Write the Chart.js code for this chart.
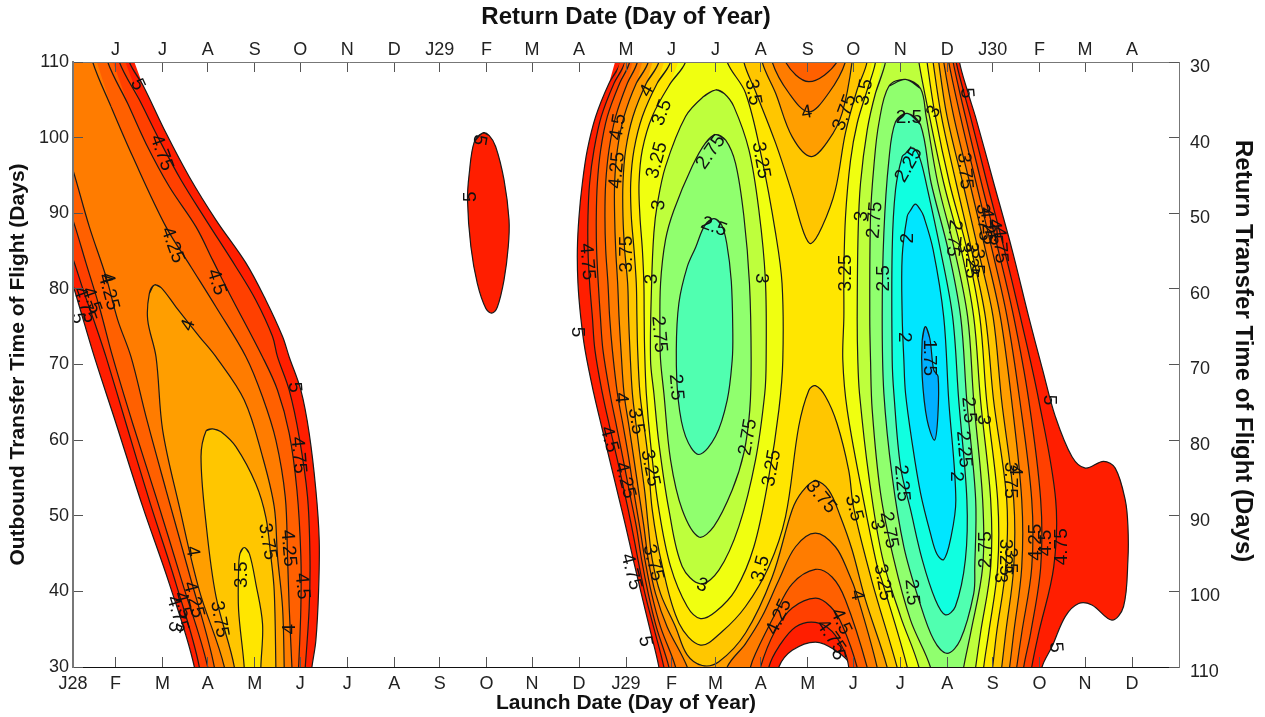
<!DOCTYPE html>
<html lang="en">
<head>
  <meta charset="UTF-8">
  <title>Launch and Return Date Contours</title>
  <script src="https://cdn.jsdelivr.net/npm/chart.js"></script>
  <style>
    body { margin: 0; background: #fff; }
    canvas { display: block; }
  </style>
</head>
<body>
<canvas id="contourChart" width="1265" height="717"></canvas>

<script>
  // axis ticks (days since start of launch window)
  const monthTicks = [0,28,59,89,120,150,181,212,242,273,303,334,365,395,424,454,485,515,546,577,607,638,668,699];
  const returnTicks = monthTicks.slice(1);
  const launchMonths = ["J28","F","M","A","M","J","J","A","S","O","N","D","J29","F","M","A","M","J","J","A","S","O","N","D"];
  const returnMonths = ["J","J","A","S","O","N","D","J29","F","M","A","M","J","J","A","S","O","N","D","J30","F","M","A"];
  const tofTicks = [30,40,50,60,70,80,90,100,110];

  // contour level -> fill colour for "value below level"
  const colors = {
    "5": "#ff1e00", "4.75": "#ff4000", "4.5": "#ff6000", "4.25": "#ff7c00", "4": "#ff9e00",
    "3.75": "#ffc600", "3.5": "#ffe600", "3.25": "#f0ff10", "3": "#beff3c", "2.75": "#90ff6e",
    "2.5": "#50ffb0", "2.25": "#10ffe0", "2": "#00e6ff", "1.75": "#00b0ff"
  };

  // left lobe, [launch day, outbound time of flight]
  const lobe5 = [[37.2,110],[46,107],[61.4,100.6],[76.8,94.8],[94.4,89.1],[114.2,83.4],[127.3,78.5],[138.3,73.7],[142.7,71],[150.4,66.6],[155.9,60.9],[160.3,53.4],[162.5,46.8],[162.1,40.1],[160.3,33.5],[157.7,30],[156,27],[79,27],[80.1,30],[63.6,41],[46,51.2],[28.4,62.2],[14.1,71],[4.3,77.6],[0.3,80.3],[-4,83],[-4,113],[35,113]];
  const lobe475 = [[30.6,110],[43.8,105],[57,99.7],[71.3,94.4],[87.8,89.1],[107.6,82.9],[120.7,78.5],[131.7,73.7],[135,71],[142.7,66.6],[149.3,60.4],[154.8,52.5],[156.4,44.6],[155.9,37.9],[153.3,30],[152,27],[82,27],[83.4,30],[68,41],[50.4,52],[35,62.2],[21.8,71],[15.2,75],[7.5,79.4],[0.3,83.8],[-4,86],[-4,113],[29,113]];
  const lobe45 = [[22.9,110],[36.1,104.5],[48.2,99.2],[63.6,93.5],[81.2,88.2],[92.2,83.8],[103.2,79.4],[125.1,71],[135,66.6],[142.7,60.9],[147.8,53.4],[150.4,44.6],[150.4,37.9],[148.9,30],[148,27],[88,27],[88.9,30],[72.4,41],[54.8,52.5],[39.4,62.2],[26.2,71],[17.4,77.6],[8.6,83.4],[0.3,88.9],[-4,91],[-4,113],[21,113]];
  const lobe425 = [[13,110],[25.1,104.1],[39.4,97.5],[61.4,88.2],[77.9,82.9],[94.4,77.6],[114.2,71],[125.1,65.7],[133.9,60],[140.1,52.5],[141.6,44.6],[142.7,37.9],[144.5,30],[145,27],[92,27],[93.3,30],[76.8,42.3],[61.4,53.4],[48.2,63.1],[38.3,71],[29.5,75.9],[21.8,81.6],[10.8,88.2],[0.3,95.5],[-4,98],[-4,113],[11,113]];
  const lobe4 = [[53.7,80.5],[58,80.2],[68,77.6],[83.4,73.7],[94.4,71],[113,65.3],[125.1,57.8],[132.8,51.2],[135,44.6],[138.3,37.9],[139.4,30],[139.5,27],[99,27],[99.9,30],[83.4,40.1],[70.2,51.2],[59.2,61.3],[54.8,71],[49.3,75.9],[50.4,79.4]];
  const lobe375 = [[92.2,61.5],[97.7,61.1],[107.6,59.1],[120.7,54.2],[127.3,49.8],[130.6,44.6],[132.8,40.1],[133.9,30],[134,27],[106,27],[106.5,30],[94.4,39.3],[87.8,49],[84.5,57.8],[87.8,61.2]];
  const lobe35 = [[113,45.8],[116.4,45],[120.7,41],[125.1,35.7],[124,30],[124,27],[113,27],[113,30],[109.3,37.5],[109.3,42.8],[110.2,45]];

  // small island in the middle
  const island5 = [[270.3,100.6],[264.8,99.4],[261.5,95.2],[260.4,91.7],[262.6,85.6],[266.9,80.7],[272.5,77.4],[276.4,76.8],[280.1,77.6],[284.5,81.2],[287.3,85.6],[287.8,89.1],[284.5,94.4],[279,98.8],[274.6,100.3]];

  // main region
  const main5 = [[361.5,110],[353.8,107.2],[345,102.8],[339.5,98.4],[336.2,94],[334,89.6],[332.9,85.2],[333.3,80.7],[335.1,76.3],[338,71.9],[343.7,66.2],[348.9,61.8],[354.2,57.4],[359.5,53],[364.8,48.6],[369.8,44.2],[375.1,39.7],[380.4,35.3],[386.7,30],[388,27],[464,27],[465.9,30],[474.7,32.2],[490,33.3],[503.2,32.2],[514.2,30],[516,27],[638,27],[639.6,30],[646.2,32.7],[655,36.7],[663.8,38.4],[672.5,38.2],[685.7,36.2],[693.4,38],[696.3,44.2],[696.3,48.6],[694.5,52.1],[687.9,56.3],[680.2,57.2],[668.2,56.3],[659.4,57.8],[648.4,63.1],[640,69.3],[630.8,76.3],[619.8,85.2],[607.7,94],[595.6,102.8],[590.8,105.9],[585.1,110],[584,113],[362,113]];
  const main475 = [[364.3,110],[357.1,107.2],[348.7,102.8],[343.9,98.4],[341,94],[339.9,89.6],[339.9,85.2],[341,80.7],[342.8,76.3],[344.5,71.9],[349.4,66.2],[354.2,61.8],[359.3,57.4],[364.1,53],[368.7,48.6],[372.9,44.2],[377.5,39.7],[383.2,35.3],[390,30],[392,27],[458,27],[459.3,30],[465.9,32.7],[476.9,35.3],[490,35.9],[501,34.7],[509.8,31.8],[512,30],[514,27],[631,27],[632.8,30],[637.4,34.5],[647.3,43.2],[648.6,52.1],[637.4,65.3],[625.3,76.3],[614.7,85.2],[603.3,94],[592.3,102.8],[582.9,110],[581,113],[365,113]];
  const main45 = [[367.4,110],[360.8,107.2],[352.7,102.8],[348.3,98.4],[346.1,94],[345.4,89.6],[345.6,85.2],[346.7,80.7],[348.1,76.3],[349.8,71.9],[354.4,66.2],[358.8,61.8],[363.2,57.4],[367.4,53],[371.8,48.6],[375.3,44.2],[379.7,39.7],[385,35.3],[393.3,30],[395,27],[452,27],[453.8,30],[463.7,34.9],[474.7,37.8],[490,39.1],[499.9,38],[507.6,35.6],[517.5,30],[519,27],[626,27],[627.5,30],[632.1,34.5],[638.7,43.2],[638.7,52.1],[630.8,65.3],[620.9,76.3],[610.6,85.2],[599.6,94],[589,102.8],[580.9,110],[579,113],[368,113]];
  const main425 = [[372.5,110],[365.9,107.2],[358.2,102.8],[353.8,98.4],[351.6,94],[351.1,89.6],[351.6,85.2],[353.1,80.7],[354.2,76.3],[356,71.9],[359.3,66.2],[363.2,61.8],[367,57.4],[370.3,53],[374,48.6],[377.5,44.2],[381.9,39.7],[387.8,35.3],[397.7,30],[400,27],[445,27],[447.2,30],[450.5,31.8],[463.7,37.1],[474.7,41],[490,42.9],[501,41.9],[509.8,38.9],[524.1,30],[526,27],[621,27],[622.9,30],[626.2,34.5],[632.8,43.2],[632.8,52.1],[624.9,65.3],[616.5,76.3],[606.6,85.2],[596.1,94],[585.7,102.8],[578,110],[576,113],[504,113],[504.3,110],[485.7,107.4],[470.3,110],[470,113],[373,113]];
  const main4 = [[379.7,110],[371.8,107.2],[363.7,102.8],[359.3,98.4],[357.5,94],[357.5,89.6],[358.2,85.2],[359.5,80.7],[360.4,76.3],[361.7,71.9],[363.7,66.2],[367,61.8],[370.3,57.4],[373.5,53],[376.8,48.6],[379.7,44.2],[384.5,39.7],[392.2,35.3],[405.4,30],[408,27],[430,27],[431.8,30],[443.9,33.1],[454.9,36.7],[465.9,41.5],[476.9,45.9],[490,47.7],[503.2,45.9],[512,42.4],[517.5,39.5],[530.7,30],[532,27],[616,27],[618.2,30],[620.9,34.5],[626.2,43.2],[626.2,52.1],[619.5,65.3],[612.1,76.3],[602.2,85.2],[591.9,94],[581.3,102.8],[574.7,110],[573,113],[510,113],[509.8,110],[498.8,105.9],[485.7,103.4],[472.5,105.9],[461.5,110],[461,113],[380,113]];
  const main375 = [[386.7,110],[378.4,107.2],[369.6,102.8],[364.8,98.4],[363,94],[363,89.6],[364.1,85.2],[366.1,80.7],[366.7,76.3],[367.6,71.9],[369.2,66.2],[371.8,61.8],[374.6,57.4],[377.5,53],[379.7,48.6],[382.3,44.2],[387.8,39.7],[397.7,35.3],[405.4,31.6],[415.3,30.2],[426.3,30.7],[443.9,34.5],[461.5,41.9],[474.7,50.8],[481.3,53.2],[490,54.6],[498.8,53.4],[506.5,49.9],[514.2,45.5],[523,38.9],[537.3,30],[539,27],[611,27],[613,30],[615.6,34.5],[620.9,43.2],[620.9,52.1],[612.9,65.3],[607.3,76.3],[597.4,85.2],[587.3,94],[576.9,102.8],[571.4,110],[570,113],[514,113],[514.2,110],[507.6,103.2],[498.8,99.7],[487.2,97.5],[474.7,100.1],[463.7,105.9],[454.9,110],[454,113],[387,113]];
  const main35 = [[394.4,110],[385.6,107.2],[375.8,102.8],[370.3,98.4],[368.1,94],[368.5,89.6],[370.3,85.2],[371.8,80.7],[372.2,76.3],[372.7,71.9],[374.2,66.2],[377,61.8],[379.7,57.4],[382.3,50.8],[389,43.3],[400,35.8],[414.2,32.9],[428.5,34.7],[443.9,38],[459.3,43.3],[470.3,49.9],[479,61.8],[485.7,66.6],[490,67.2],[496.6,65.8],[504.3,62.2],[512,56],[515.3,51],[527.4,41.3],[543.9,30],[547,27],[605,27],[607,30],[609.6,34.5],[615.6,43.2],[616.3,52.1],[607.6,65.3],[602.2,76.3],[593,85.2],[582.9,94],[573.2,102.8],[567.7,110],[566,113],[524,113],[524.1,110],[517.5,106.3],[509.8,100.6],[503.2,93.1],[494.4,88.2],[487.2,86],[482.4,87.4],[474.7,92.6],[463.7,99.3],[450.5,106.1],[442.8,110],[442,113],[395,113]];

  // left well (launch around M)
  const wellA325 = [[404.3,110],[394.4,107.2],[382.3,102.8],[375.8,98.4],[373.6,94],[374.2,89.6],[375.8,85.2],[376.8,80.7],[377,76.3],[377.3,71.9],[378.4,66.2],[381.2,59.6],[386.7,50.8],[394.4,43.3],[405.4,38],[414.2,36.4],[424.1,37.3],[437.3,40.2],[449.4,45.9],[459.3,55.2],[465.9,64],[468.5,70.6],[468,80.7],[463.7,87.4],[454.9,97],[443.9,105.9],[431.8,110],[431,113],[405,113]];
  const wellA3 = [[424.1,106.3],[416,105.4],[404.3,102.8],[391.1,96.2],[385.6,91.1],[383.4,87.4],[381.9,80.7],[381.2,70.6],[383.4,66.2],[386.7,59.6],[393.3,50.8],[402.1,43.3],[414.2,41],[426.3,42.8],[439.5,48.6],[450.5,57.4],[456.6,66.2],[457.5,70.6],[457,81.2],[452.7,90.4],[446.1,98.4],[436.2,104.1],[430,105.8]];
  const wellA275 = [[424.1,100.4],[417.5,99.3],[408.7,96.2],[396.6,90.4],[391.1,86.5],[387.8,80.7],[387.4,74.1],[387.8,70.6],[390,66.2],[394.4,57.4],[402.1,50.8],[413.1,47.2],[423,48.6],[435.1,53.4],[442.8,58.3],[446.7,64],[447.6,70.6],[446.5,80.7],[442.8,89.6],[437.3,96.6],[430.7,99.7]];
  const wellA25 = [[423,89.3],[417,88.4],[411,85.5],[405.4,82.9],[399.9,78.1],[398.2,71.9],[399.5,65.3],[404.3,60.5],[413.1,58.1],[424.1,60.5],[431.8,65.3],[435.1,70.6],[435.5,74.1],[434.5,81],[431.5,86],[428,88.5]];

  // right well (launch around A)
  const wellB325 = [[529.7,110],[524.2,106.3],[517.6,101.9],[513.2,97],[509.9,89.6],[508.8,82.1],[508.8,76.3],[508.1,70.6],[511,64],[520.9,53],[530.8,43.3],[534.1,41.3],[550.6,30],[552,27],[600,27],[601.1,30],[604.4,34.5],[610.3,43.2],[610.3,52.1],[603,65.3],[598.5,76.3],[590.1,85.2],[578.5,94],[569.2,102.8],[563.7,110],[562,113],[530,113]];
  const wellB3 = [[536.3,110],[529.7,105.9],[524.2,101],[519.8,94],[518.2,87.4],[517.6,76.3],[518,70.6],[519.1,66.2],[525.3,55.2],[534.1,44.6],[546.2,36.7],[558.3,30],[559,27],[594,27],[595.8,30],[599,34.5],[605.7,43.2],[605.7,52.1],[599,65.3],[594.5,76.3],[586.2,85.2],[574.7,94],[565.3,102.8],[558.3,110],[557,113],[537,113]];
  const wellB275 = [[549.5,107.7],[559.4,106.5],[563.1,102.8],[570.8,94],[581.8,85.2],[590.5,76.3],[594.5,65.3],[600.4,52.1],[600.4,43.2],[592.5,34.5],[587.9,30],[586,27],[567,27],[565.9,30],[552.8,36.2],[541.8,44.2],[533,53],[527.5,64],[526.4,70.6],[525.9,76.3],[526.4,89.6],[528.6,96.2],[531.9,101.9],[538.5,106.8]];
  const wellB25 = [[550.6,103.2],[559.4,101.7],[566.4,94],[577.6,85.2],[585.9,76.3],[589.9,65.3],[595.8,52.1],[595.2,43.2],[594.5,39.7],[585.7,33.6],[576.9,31.8],[568.1,33.6],[558.3,38.9],[548.4,45.9],[540.7,55.2],[535.2,66.2],[534.1,76.3],[535.2,87.4],[538.5,97],[542.9,102.1]];
  const wellB225 = [[552.8,98.6],[556,98.4],[559.4,97],[563.1,94],[572.5,85.2],[580.6,76.3],[584.6,65.3],[590,52.1],[589,44.2],[582.4,38],[575.8,36.9],[569.2,38.9],[560.5,44.2],[552.8,50.8],[546.2,56.5],[541.8,66.2],[540.7,70.6],[540.7,85.2],[542.9,93.1],[547.3,97.5],[549.5,97.9]];
  const wellB2 = [[556,91.2],[559.5,90.4],[561.5,89.6],[567.7,85.2],[574.7,76.3],[578,65.3],[582.7,52.1],[579.1,46.8],[574.7,44.2],[570.3,44.9],[565.9,47.7],[559.4,53],[553.9,59.6],[549.5,66.2],[548.4,70.6],[547.3,76.3],[547.3,84.3],[550.6,89.6],[552.5,90.3]];
  const wellB175 = [[562.6,75],[565.5,73.5],[568.1,69.3],[571,68.4],[570.8,63.1],[568.6,60],[563.7,62.7],[560.5,68.4],[560.5,73.2]];

  // painted from the outside in: [points, level]
  const regions = [
    [lobe5,"5"],[lobe475,"4.75"],[lobe45,"4.5"],[lobe425,"4.25"],[lobe4,"4"],[lobe375,"3.75"],[lobe35,"3.5"],
    [island5,"5"],
    [main5,"5"],[main475,"4.75"],[main45,"4.5"],[main425,"4.25"],[main4,"4"],[main375,"3.75"],[main35,"3.5"],
    [wellA325,"3.25"],[wellA3,"3"],[wellA275,"2.75"],[wellA25,"2.5"],
    [wellB325,"3.25"],[wellB3,"3"],[wellB275,"2.75"],[wellB25,"2.5"],[wellB225,"2.25"],[wellB2,"2"],[wellB175,"1.75"]
  ];

  // inline contour labels: [day, tof, text, rotation]
  const contourLabels = [
    [42.5,107,"5",65],[58.4,98,"4.75",70],[65.6,85.8,"4.25",70],[94.6,80.9,"4.5",72],[76.2,75.2,"4",-70],
    [22.8,81.4,"4",75],[23.4,79.6,"4.25",75],[12.2,78.5,"4.5",70],[7.6,77.9,"4.75",70],[3,76.1,"5",80],
    [146.1,67,"5",85],[148.7,58,"4.75",85],[142.1,45.7,"4.25",85],[128.3,46.6,"3.75",80],[151.3,40.7,"4.5",85],
    [142.8,35,"4",-90],[111.1,42.2,"3.5",-90],[78.8,45.3,"4",80],[79.5,38.9,"4.25",75],[72.2,38.2,"4.5",75],
    [68.9,37,"4.75",72],[66.9,35.3,"5",110],[96.6,36.3,"3.75",80],
    [268.1,99.7,"5",100],[262.8,92.2,"5",-90],
    [378.9,106.2,"4",-60],[359.8,101.4,"4.5",-80],[388.8,103.3,"3.5",-70],[359.1,95.7,"4.25",-85],[385.5,97,"3.25",-75],
    [386.8,91.1,"3",-85],[365.7,84.6,"3.75",-90],[339.3,83.6,"4.75",85],[382.2,81.3,"3",-90],[332.7,74.3,"5",90],
    [386.8,74,"2.75",85],[421,98.1,"2.75",-55],[423,88.2,"2.5",20],[448.8,106,"3.5",80],[454,97,"3.25",80],
    [454,81.4,"3",90],[484.4,103.3,"4",-10],[509.4,103.3,"3.75",-70],[522.6,106,"3.5",-80],[510.1,82.1,"3.25",-90],
    [398,67,"2.5",85],[361.7,65.6,"4",85],[371.6,62.5,"3.5",80],[353.8,60.1,"4.5",75],[364.4,54.7,"4.25",75],
    [380.9,56.3,"3.25",78],[445.5,60.4,"2.75",-80],[461.3,56.3,"3.25",-80],[493.6,52.5,"3.75",50],[515.4,51,"3.5",75],
    [382.8,43.8,"3.75",75],[368.3,42.6,"4.75",75],[415.2,40.8,"3",20],[454,43,"3.5",-75],[377.6,33.4,"5",80],
    [466,36.6,"4.25",-65],[506.8,36,"4.5",65],[500.2,34,"4.75",55],[504.9,31.6,"5",80],[517.4,39.5,"4",80],
    [589.9,105.9,"5",85],[568.2,103.4,"3",-60],[551.7,102.6,"2.5",0],[551.7,96.4,"2.25",-60],[588.6,95.6,"3.75",85],
    [520.6,89.6,"3",-85],[529.2,89.1,"2.75",-85],[551,86.7,"2",-90],[535.2,81.4,"2.5",-90],[548.4,73.6,"2",90],
    [564.9,70.9,"1.75",90],[581.3,86.7,"2.75",95],[587.9,85.4,"3",90],[592.6,83.8,"3.25",90],[596.5,83.6,"3.5",90],
    [601,88.8,"3.75",85],[603.7,88.3,"4.25",85],[608.4,87.5,"4.5",85],[611.7,85.8,"4.75",85],
    [644.6,65.3,"5",90],[591.2,64,"2.5",85],[601,62.7,"3",90],[587.9,58.8,"2.25",85],[582.7,55.2,"2",90],
    [622.2,56,"4",90],[618.3,54.7,"3.75",90],[547,54.3,"2.25",85],[538.5,48.1,"2.75",80],[530.6,48.8,"3",80],
    [534.5,41.2,"3.25",80],[553.6,39.9,"2.5",85],[602.4,45.5,"2.75",-90],[615.6,44.5,"3.25",90],[618.9,44.1,"3.5",90],
    [612.3,41.8,"3",90],[635.4,46.5,"4.25",-90],[642,46.4,"4.5",-90],[652.5,45.9,"4.75",-90],[648.6,32.6,"5",85]
  ];

  const tickFont = { family: "'Liberation Sans', Arial, sans-serif", size: 18 };
  const titleFont = size => ({ family: "'Liberation Sans', Arial, sans-serif", size: size, weight: "bold" });

  const datasets = regions.map(function(r, i) {
    // wrap around the ends so a closed contour stays smooth where it starts
    const n = r[0].length;
    const ring = [r[0][n - 1]].concat(r[0], [r[0][0], r[0][1]]);
    return {
      data: ring.map(p => ({ x: p[0], y: p[1] })),
      showLine: true,
      fill: "shape",
      tension: 0.35,
      backgroundColor: colors[r[1]],
      borderColor: "#1a1a1a",
      borderWidth: 1.2,
      pointRadius: 0,
      order: regions.length - i
    };
  });

  const contourLabelPlugin = {
    id: "contourLabels",
    afterDatasetsDraw(chart) {
      const ctx = chart.ctx;
      ctx.save();
      ctx.font = "19px 'Liberation Sans', Arial, sans-serif";
      ctx.fillStyle = "#111";
      ctx.textAlign = "center";
      ctx.textBaseline = "middle";
      contourLabels.forEach(function(l) {
        ctx.save();
        ctx.translate(chart.scales.x.getPixelForValue(l[0]), chart.scales.y.getPixelForValue(l[1]));
        ctx.rotate(l[3] * Math.PI / 180);
        ctx.fillText(l[2], 0, 0);
        ctx.restore();
      });
      ctx.restore();
    }
  };

  // ticks point into the plot, so negative length and padding to make up for it
  function axisGrid(color) {
    return { drawOnChartArea: false, drawTicks: true, tickLength: -10, color: color, z: 1 };
  }

  new Chart(document.getElementById("contourChart"), {
    type: "scatter",
    data: { datasets: datasets },
    plugins: [contourLabelPlugin],
    options: {
      responsive: false,
      animation: false,
      events: [],
      layout: { padding: 0 },
      plugins: { legend: { display: false }, tooltip: { enabled: false } },
      scales: {
        x: {
          type: "linear", position: "bottom", min: 0, max: 730,
          afterFit: s => { s.height = 50; },
          afterBuildTicks: s => { s.ticks = monthTicks.map(v => ({ value: v })); },
          grid: axisGrid("#555"),
          border: { color: "#111", width: 1, z: 1 },
          ticks: { font: tickFont, color: "#222", padding: 16, maxRotation: 0, autoSkip: false, z: 1,
            callback: (v, i) => launchMonths[i] },
          title: { display: true, text: "Launch Date (Day of Year)", font: titleFont(21), color: "#111", padding: { top: 0, bottom: 1 } }
        },
        x2: {
          type: "linear", position: "top", min: 0, max: 730,
          afterFit: s => { s.height = 62; },
          afterBuildTicks: s => { s.ticks = returnTicks.map(v => ({ value: v })); },
          grid: axisGrid("#555"),
          border: { color: "#777", width: 1, z: 1 },
          ticks: { font: tickFont, color: "#222", padding: 11, maxRotation: 0, autoSkip: false, z: 1,
            callback: (v, i) => returnMonths[i] },
          title: { display: true, text: "Return Date (Day of Year)", font: titleFont(24), color: "#111", padding: { top: 3, bottom: 0 } }
        },
        y: {
          type: "linear", position: "left", min: 30, max: 110,
          afterFit: s => { s.width = 73; },
          afterBuildTicks: s => { s.ticks = tofTicks.map(v => ({ value: v })); },
          grid: axisGrid("#555"),
          border: { color: "#777", width: 2, z: 1 },
          ticks: { font: tickFont, color: "#222", padding: 14, z: 1 },
          title: { display: true, text: "Outbound Transfer Time of Flight (Days)", font: titleFont(21), color: "#111", padding: { top: 6, bottom: 0 } }
        },
        y2: {
          type: "linear", position: "right", min: 30, max: 110, reverse: true,
          afterFit: s => { s.width = 86; },
          afterBuildTicks: s => { s.ticks = tofTicks.map(v => ({ value: v })); },
          grid: axisGrid("#555"),
          border: { color: "#777", width: 1, z: 1 },
          ticks: { font: tickFont, color: "#222", padding: 21, labelOffset: 5, z: 1 },
          title: { display: true, text: "Return Transfer Time of Flight (Days)\u00A0\u00A0\u00A0\u00A0", font: titleFont(24), color: "#111", padding: { top: 8, bottom: 0 } }
        }
      }
    }
  });
</script>

</body>
</html>
